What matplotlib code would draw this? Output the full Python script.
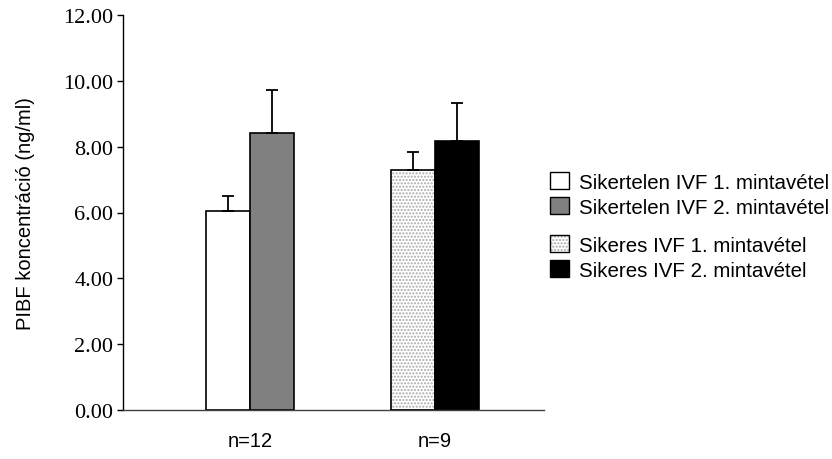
import matplotlib
matplotlib.use("Agg")
import matplotlib.pyplot as plt
from matplotlib.patches import Patch
from matplotlib.legend_handler import HandlerTuple

# PIBF concentrations (ng/ml), mean and upper SD
groups = ["n=12", "n=9"]
labels = ["Sikertelen IVF 1. mintavétel", "Sikertelen IVF 2. mintavétel",
          "Sikeres IVF 1. mintavétel", "Sikeres IVF 2. mintavétel"]
means = [6.05, 8.43, 7.30, 8.16]
errs = [0.46, 1.29, 0.55, 1.17]
yticks = [0, 2, 4, 6, 8, 10, 12]

fig = plt.figure(figsize=(8.32, 4.6), dpi=100)
ax = fig.add_axes([123 / 832, 1 - 411 / 460, (544 - 123) / 832, (411 - 16) / 460])

w = 0.238
xs = [0 - w / 2, 0 + w / 2, 1 - w / 2, 1 + w / 2]

ekw = dict(ecolor="black", elinewidth=1.3, capsize=4, capthick=1.3)

def upper(i):
    return [[0], [errs[i]]]

ax.bar(xs[0], means[0], w, color="white", edgecolor="black", lw=1.2,
       yerr=upper(0), error_kw=ekw, zorder=2)
ax.bar(xs[1], means[1], w, color="#808080", edgecolor="black", lw=1.2,
       yerr=upper(1), error_kw=ekw, zorder=2)
# dotted bar: hatch drawn in grey, outline on top in black
ax.bar(xs[2], means[2], w, color="white", edgecolor="#a8a8a8", lw=0,
       hatch=".....", zorder=2)
ax.bar(xs[2], means[2], w, fill=False, edgecolor="black", lw=1.2,
       yerr=upper(2), error_kw=ekw, zorder=3)
ax.bar(xs[3], means[3], w, color="black", edgecolor="black", lw=1.2,
       yerr=upper(3), error_kw=ekw, zorder=2)

ax.set_xlim((123 - 250) / 185, (544 - 250) / 185)
ax.set_ylim(0, 12)
ax.set_yticks(yticks)
ax.set_yticklabels([f"{v:.2f}" for v in yticks], family="Liberation Serif", fontsize=16)
ax.set_xticks([0, 1])
ax.set_xticklabels(groups, family="Liberation Sans", fontsize=14.5)
ax.tick_params(axis="x", length=0, pad=15)
ax.tick_params(axis="y", direction="out", length=4, width=1, pad=3)
for s in ["top", "right"]:
    ax.spines[s].set_visible(False)
ax.spines["left"].set_linewidth(1)
ax.spines["bottom"].set_linewidth(1)
ax.spines["bottom"].set_color("#404040")

ax.set_ylabel("PIBF koncentráció (ng/ml)", family="Liberation Sans", fontsize=14.5, labelpad=20)

h1 = Patch(facecolor="white", edgecolor="black", lw=1)
h2 = Patch(facecolor="#808080", edgecolor="black", lw=1)
h3 = (Patch(facecolor="white", edgecolor="#a8a8a8", lw=0, hatch="....."),
      Patch(fill=False, edgecolor="black", lw=1))
h4 = Patch(facecolor="black", edgecolor="black", lw=1)

lkw = dict(frameon=False, prop={"family": "Liberation Sans", "size": 14.8},
           handlelength=0.9, handleheight=0.9, handletextpad=0.5,
           labelspacing=0.28, borderpad=0, borderaxespad=0,
           handler_map={tuple: HandlerTuple(ndivide=1, pad=0)})
fig.legend([h1, h2], labels[:2], loc="upper left",
           bbox_to_anchor=(550 / 832, 1 - 173 / 460), **lkw)
fig.legend([h3, h4], labels[2:], loc="upper left",
           bbox_to_anchor=(550 / 832, 1 - 236 / 460), **lkw)

fig.savefig("out.png", dpi=100)
